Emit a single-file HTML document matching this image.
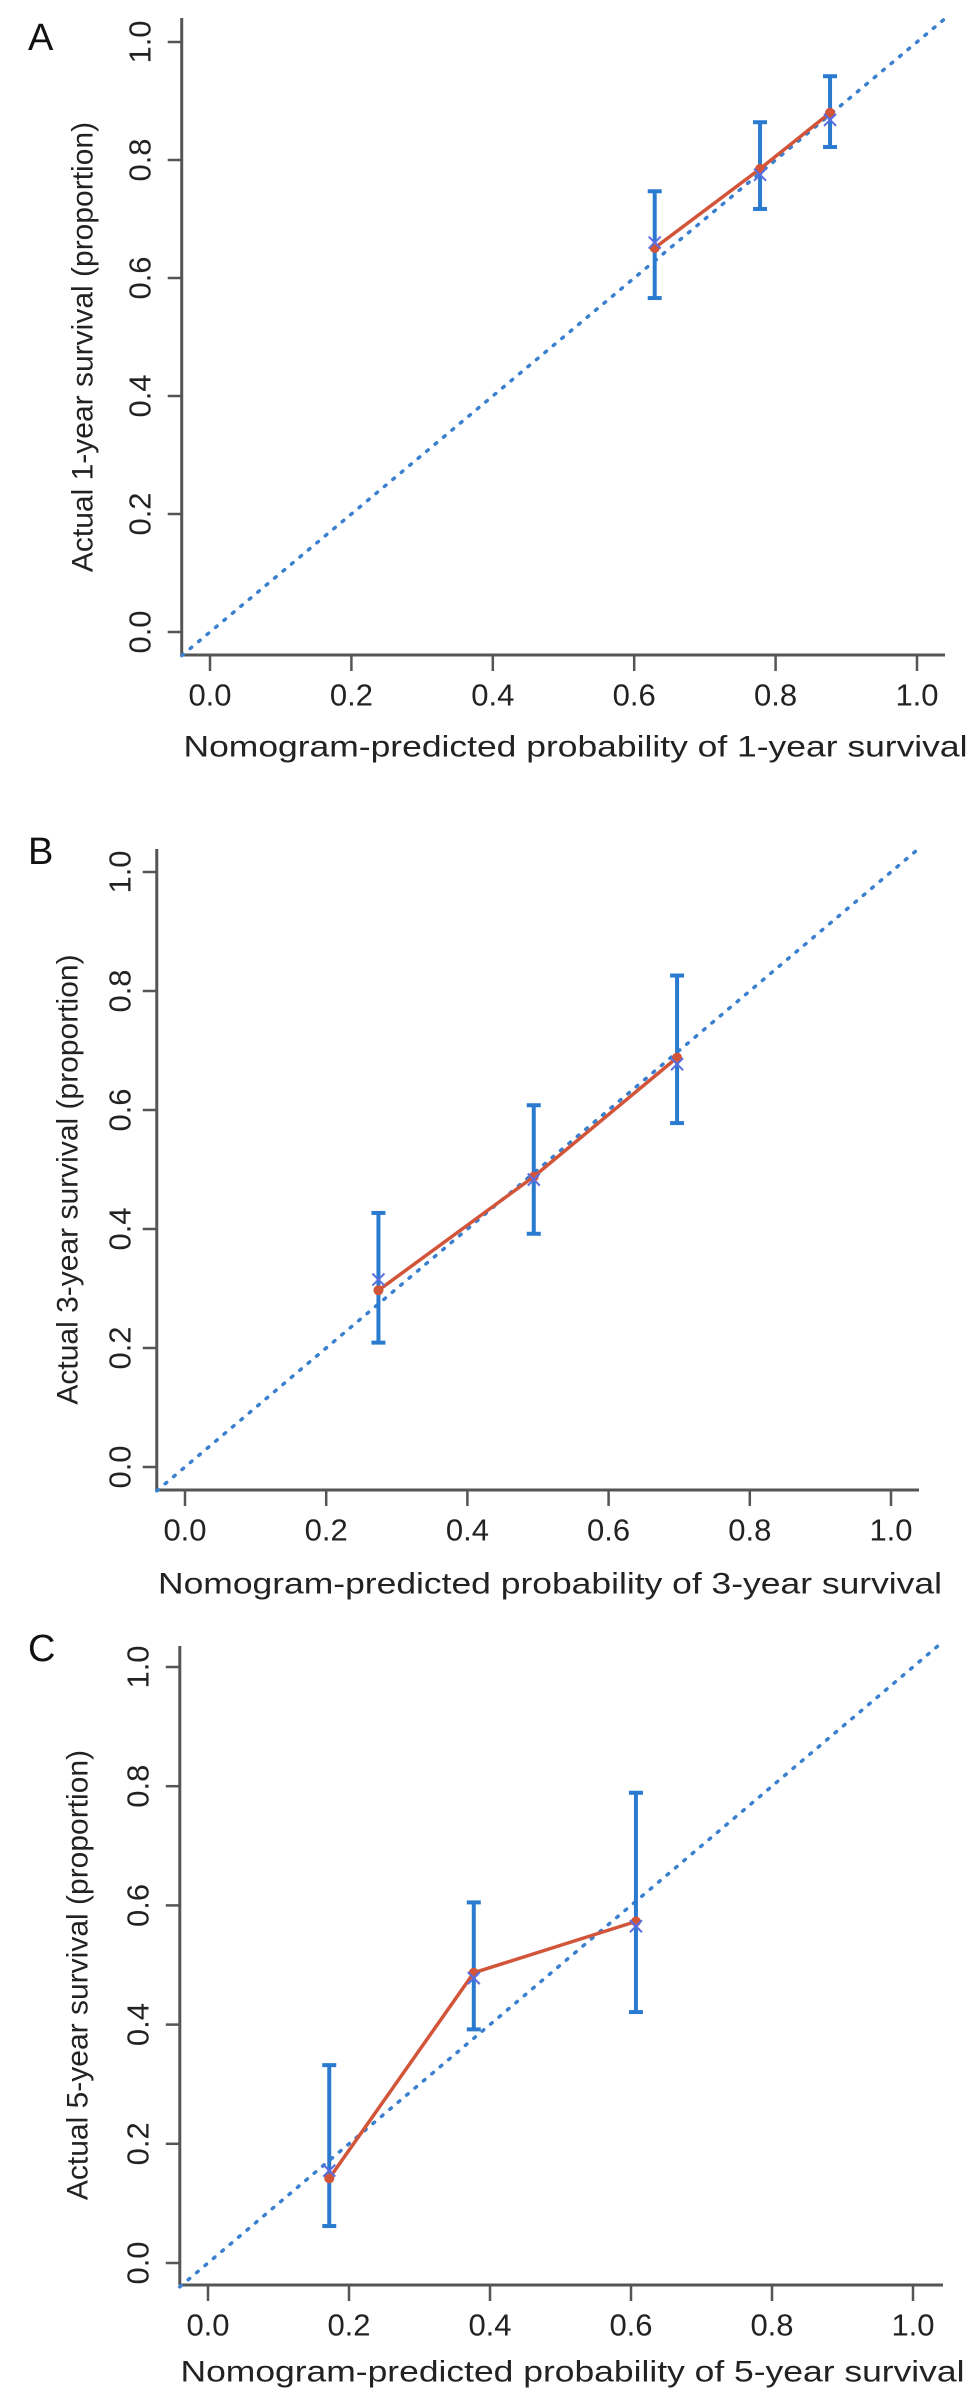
<!DOCTYPE html>
<html><head><meta charset="utf-8"><style>
body{margin:0;background:#fff}
svg{display:block;font-family:"Liberation Sans",sans-serif}
</style></head><body>
<svg id="fig" width="969" height="2402" viewBox="0 0 969 2402"></svg>
<script>
// Panel A data (1-year)
const predA=[0.629,0.778,0.877];
const obsA=[0.651,0.785,0.880];
const obsBlueA=[0.660,0.775,0.868];
const lowA=[0.566,0.717,0.822];
const highA=[0.747,0.864,0.942];
// Panel B data (3-year)
const predB=[0.274,0.494,0.697];
const obsB=[0.297,0.488,0.688];
const obsBlueB=[0.315,0.483,0.677];
const lowB=[0.209,0.392,0.578];
const highB=[0.427,0.608,0.826];
// Panel C data (5-year)
const predC=[0.172,0.377,0.607];
const obsC=[0.142,0.487,0.573];
const obsBlueC=[0.155,0.478,0.565];
const lowC=[0.062,0.392,0.421];
const highC=[0.332,0.605,0.789];
const tickVals=[0,0.2,0.4,0.6,0.8,1.0];
const tickLabels=["0.0","0.2","0.4","0.6","0.8","1.0"];

const NS="http://www.w3.org/2000/svg";
const svg=document.getElementById('fig');
function mk(tag,attrs,parent){const e=document.createElementNS(NS,tag);for(const k in attrs)e.setAttribute(k,attrs[k]);(parent||svg).appendChild(e);return e;}

const panels=[
 {id:'a',letter:'A',lx:28,ly:40,x0:210,x1:917,y0:632,y1:42,axTop:18,axRight:945,axB:655,ytlx:140,ytitx:83,ytitle:"Actual 1-year survival (proportion)",xtitle:"Nomogram-predicted probability of 1-year survival",xtitY:747,pred:predA,obs:obsA,blue:obsBlueA,low:lowA,high:highA},
 {id:'b',letter:'B',lx:28,ly:854,x0:185,x1:891,y0:1467,y1:872,axTop:849,axRight:919,axB:1490,ytlx:120,ytitx:68,ytitle:"Actual 3-year survival (proportion)",xtitle:"Nomogram-predicted probability of 3-year survival",xtitY:1584,pred:predB,obs:obsB,blue:obsBlueB,low:lowB,high:highB},
 {id:'c',letter:'C',lx:28,ly:1651,x0:208,x1:913,y0:2263,y1:1667,axTop:1646,axRight:943,axB:2285,ytlx:138,ytitx:78,ytitle:"Actual 5-year survival (proportion)",xtitle:"Nomogram-predicted probability of 5-year survival",xtitY:2372,pred:predC,obs:obsC,blue:obsBlueC,low:lowC,high:highC}
];

panels.forEach(p=>{
 const g=mk('g',{});
 
 
 const sx=v=>p.x0+(p.x1-p.x0)*v;
 const sy=v=>p.y0+(p.y1-p.y0)*v;
 const axL=sx(-0.04);
 const lab=mk('text',{x:p.lx,y:p.ly,'font-size':38,'dominant-baseline':'middle',fill:'#111'},g);
 lab.textContent=p.letter;
 
 
 const ya=mk('line',{x1:axL,y1:p.axTop,x2:axL,y2:p.axB,stroke:'#555','stroke-width':3},g);
 
 
 const xa=mk('line',{x1:axL,y1:p.axB,x2:p.axRight,y2:p.axB,stroke:'#555','stroke-width':3},g);
 
 
 tickVals.forEach((v,i)=>{
  const ty=sy(v);
  mk('line',{x1:axL-14,y1:ty,x2:axL,y2:ty,stroke:'#555','stroke-width':2.5},g);
  const t=mk('text',{x:0,y:0,transform:`translate(${p.ytlx},${ty}) rotate(-90)`,'text-anchor':'middle','dominant-baseline':'central','font-size':31,fill:'#222'},g);
  t.textContent=tickLabels[i];
  
  
  const tx=sx(v);
  mk('line',{x1:tx,y1:p.axB,x2:tx,y2:p.axB+16,stroke:'#555','stroke-width':2.5},g);
  const xt=mk('text',{x:tx,y:p.axB+40,'text-anchor':'middle','dominant-baseline':'central','font-size':31,fill:'#222'},g);
  xt.textContent=tickLabels[i];
  
  
 });
 const yt=mk('text',{x:0,y:0,transform:`translate(${p.ytitx},${(p.y0+p.y1)/2+10}) rotate(-90)`,'text-anchor':'middle','dominant-baseline':'central','font-size':30,fill:'#222'},g);
 yt.textContent=p.ytitle;
 
 
 const xtt=mk('text',{x:(p.x0+p.x1)/2+12,y:p.xtitY,'text-anchor':'middle','dominant-baseline':'central','font-size':30,fill:'#222',textLength:784,lengthAdjust:'spacingAndGlyphs'},g);
 xtt.textContent=p.xtitle;
 
 
 // ideal diagonal
 const d=mk('line',{x1:sx(-0.04),y1:sy(-0.04),x2:sx(1.04),y2:sy(1.04),stroke:'#3a80cf','stroke-width':3.5,'stroke-dasharray':'2 9','stroke-linecap':'round'},g);
 
 
 // error bars
 p.pred.forEach((v,i)=>{
  const x=sx(v);
  const eb=mk('g',{stroke:'#2a7bd0','stroke-width':4},g);
  
  
  mk('line',{x1:x,y1:sy(p.low[i]),x2:x,y2:sy(p.high[i])},eb);
  mk('line',{x1:x-7,y1:sy(p.low[i]),x2:x+7,y2:sy(p.low[i])},eb);
  mk('line',{x1:x-7,y1:sy(p.high[i]),x2:x+7,y2:sy(p.high[i])},eb);
 });
 // red line
 const pts=p.pred.map((v,i)=>sx(v)+','+sy(p.obs[i])).join(' ');
 const pl=mk('polyline',{points:pts,fill:'none',stroke:'#d2553a','stroke-width':3.5},g);
 
 
 p.pred.forEach((v,i)=>{
  const x=sx(v),y=sy(p.obs[i]);
  const pt=mk('circle',{cx:x,cy:y,r:5,fill:'#d2553a'},g);
  
  
  const by=sy(p.blue[i]);
  const bx=mk('path',{d:`M${x-6},${by-6}L${x+6},${by+6}M${x-6},${by+6}L${x+6},${by-6}`,stroke:'#5b6ee0','stroke-width':2,fill:'none'},g);
  
  
 });
});
</script>
</body></html>
